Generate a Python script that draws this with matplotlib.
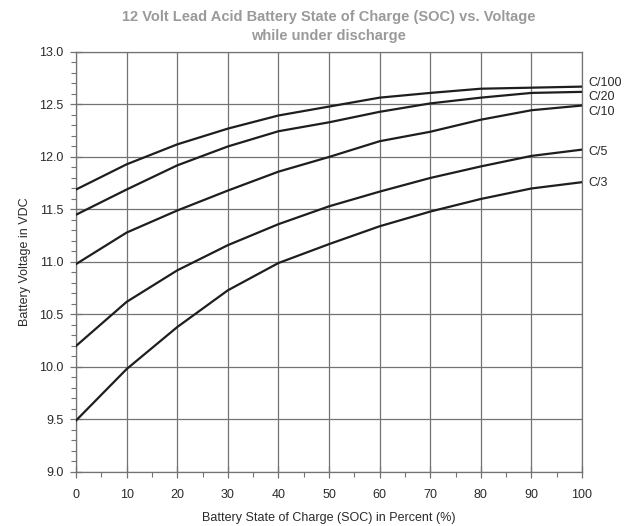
import numpy as np
import matplotlib
matplotlib.use("Agg")
import matplotlib.pyplot as plt
from matplotlib.ticker import MultipleLocator, FormatStrFormatter

plt.rcParams['font.family'] = ['Liberation Sans', 'DejaVu Sans']

# state of charge in percent
soc = [0, 10, 20, 30, 40, 50, 60, 70, 80, 90, 100]

# voltage under discharge for each rate
c100 = [11.69, 11.93, 12.12, 12.27, 12.395, 12.48, 12.565, 12.61, 12.65, 12.66, 12.67]
c20 = [11.45, 11.69, 11.92, 12.10, 12.245, 12.33, 12.43, 12.51, 12.565, 12.61, 12.62]
c10 = [10.98, 11.28, 11.49, 11.68, 11.86, 12.00, 12.15, 12.24, 12.355, 12.445, 12.49]
c5 = [10.20, 10.62, 10.92, 11.16, 11.36, 11.53, 11.67, 11.80, 11.91, 12.01, 12.07]
c3 = [9.49, 9.98, 10.38, 10.73, 10.99, 11.17, 11.34, 11.48, 11.60, 11.70, 11.76]

rates = ['C/100', 'C/20', 'C/10', 'C/5', 'C/3']
series = [c100, c20, c10, c5, c3]

fig = plt.figure(figsize=(6.41, 5.26), dpi=100)
ax = fig.add_axes([0.1186, 0.1027, 0.7894, 0.7985])

grid_col = '#737373'
txt_col = '#2a2a2a'

for name, vals in zip(rates, series):
    ax.plot(soc, vals, color='#1e1e1e', lw=1.6, solid_joinstyle='round', zorder=3)

# labels at the right end, nudged a bit so they don't overlap
nudge = {'C/100': 0.03, 'C/20': -0.045, 'C/10': -0.06, 'C/5': -0.02, 'C/3': -0.01}
for name, vals in zip(rates, series):
    ax.text(101.2, vals[-1] + nudge[name], name, fontsize=9, color=txt_col,
            va='center', ha='left', clip_on=False)

ax.set_xlim(0, 100)
ax.set_ylim(9.0, 13.0)
ax.xaxis.set_major_locator(MultipleLocator(10))
ax.xaxis.set_minor_locator(MultipleLocator(5))
ax.yaxis.set_major_locator(MultipleLocator(0.5))
ax.yaxis.set_minor_locator(MultipleLocator(0.1))
ax.yaxis.set_major_formatter(FormatStrFormatter('%.1f'))

ax.grid(True, which='major', color=grid_col, lw=0.9)
for s in ax.spines.values():
    s.set_color(grid_col)
    s.set_linewidth(0.9)

ax.tick_params(which='major', direction='inout', length=8, width=0.9,
               color=grid_col, labelsize=9, labelcolor=txt_col)
ax.tick_params(which='minor', direction='out', length=3.5, width=0.8, color=grid_col)
ax.tick_params(axis='x', pad=8.5)
ax.tick_params(axis='y', pad=5)

ax.set_xlabel('Battery State of Charge (SOC) in Percent (%)', fontsize=9,
              color=txt_col, labelpad=8)
ax.set_ylabel('Battery Voltage in VDC', fontsize=9, color=txt_col, labelpad=6)

fig.text(0.513, 0.967, '12 Volt Lead Acid Battery State of Charge (SOC) vs. Voltage',
         ha='center', va='center', fontsize=10.5, fontweight='bold', color='#9a9a9a')
fig.text(0.513, 0.931, 'while under discharge',
         ha='center', va='center', fontsize=10.5, fontweight='bold', color='#9a9a9a')

fig.savefig('out.png', dpi=100)
